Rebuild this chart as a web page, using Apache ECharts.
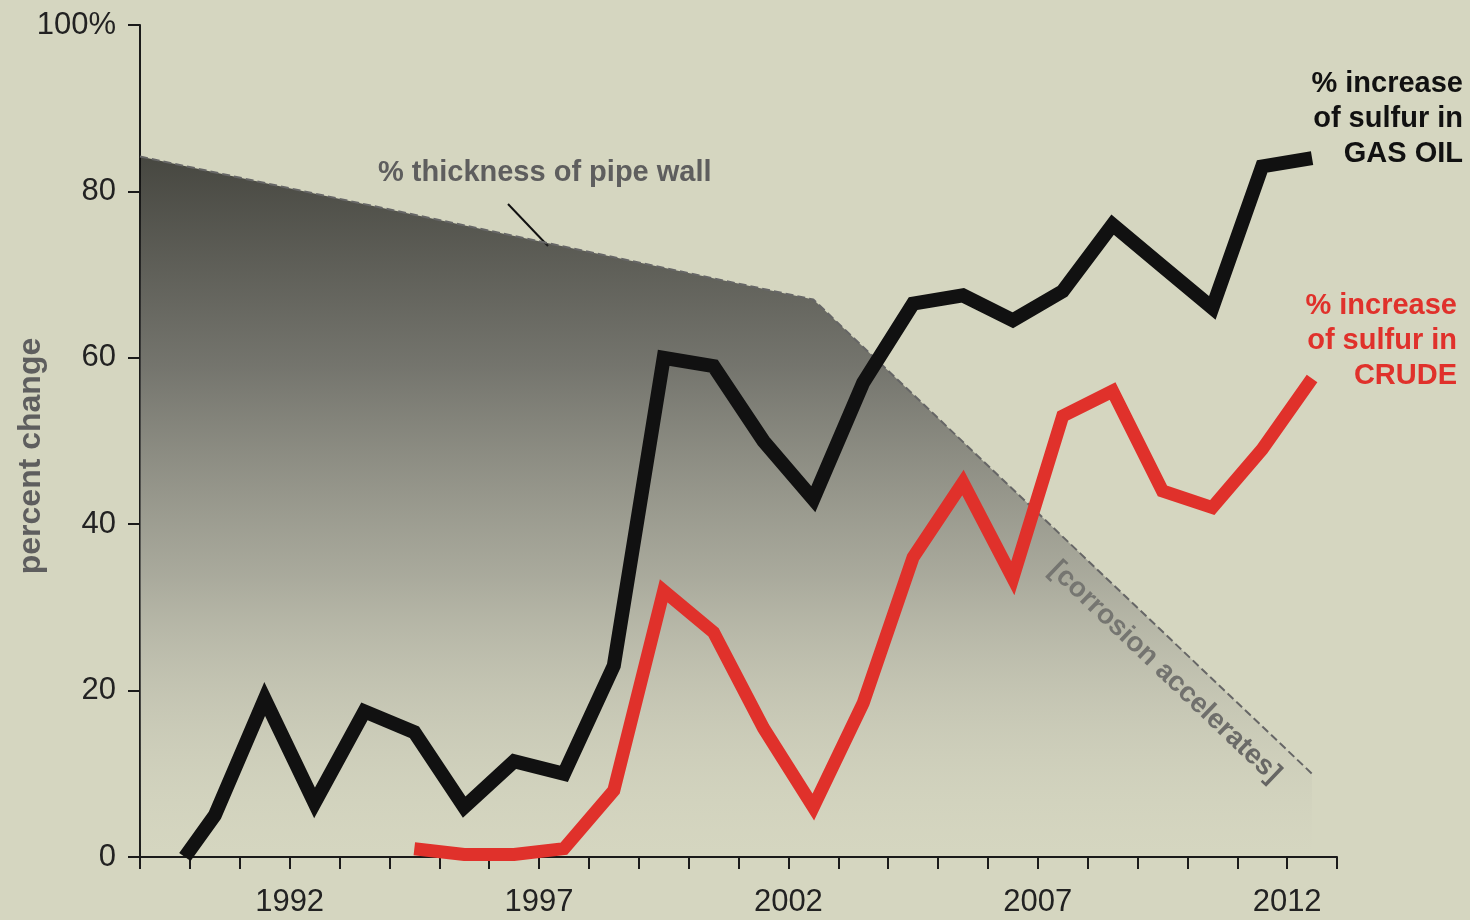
<!DOCTYPE html>
<html lang="en">
<head>
  <meta charset="UTF-8">
  <title>Sulfur and pipe wall</title>
  <script src="https://cdn.jsdelivr.net/npm/echarts@6/dist/echarts.min.js"></script>
  <style>
    html, body { margin: 0; padding: 0; background: #d5d6c0; }
  </style>
</head>
<body>
<div id="main" style="width:1470px;height:920px;"></div>
<script type="text/javascript">
  // values (x = year position, y = percent change)
  var gasOilYears = [1989.9, 1990.5, 1991.5, 1992.5, 1993.5, 1994.5, 1995.5, 1996.5, 1997.5, 1998.5, 1999.5, 2000.5,
                     2001.5, 2002.5, 2003.5, 2004.5, 2005.5, 2006.5, 2007.5, 2008.5, 2009.5, 2010.5, 2011.5, 2012.5];
  var gasOil = [0, 5, 19, 6.5, 17.5, 15, 6, 11.5, 10, 23, 60, 59,
                50, 43, 57, 66.5, 67.5, 64.5, 68, 76, 71, 66, 83, 84];
  var crudeYears = [1994.5, 1995.5, 1996.5, 1997.5, 1998.5, 1999.5, 2000.5, 2001.5, 2002.5, 2003.5,
                    2004.5, 2005.5, 2006.5, 2007.5, 2008.5, 2009.5, 2010.5, 2011.5, 2012.5];
  var crude = [1, 0.3, 0.3, 1, 8, 32, 27, 15.5, 6, 18.5,
               36, 45, 33.5, 53, 56, 44, 42, 49, 57.5];
  var wallYears = [1989, 2002.5, 2012.5];
  var wall = [84.2, 67, 10];
  var yearLabels = [1992, 1997, 2002, 2007, 2012];

  function pairs(xs, ys) {
    return xs.map(function (x, i) { return [x, ys[i]]; });
  }

  var myChart = echarts.init(document.getElementById('main'));
  var font = 'Liberation Sans, Arial, sans-serif';

  var option = {
    backgroundColor: '#d5d6c0',
    animation: false,
    grid: { left: 140, right: 133, top: 25, bottom: 63, containLabel: false, outerBoundsMode: 'none' },
    xAxis: {
      type: 'value',
      min: 1989,
      max: 2013,
      interval: 1,
      splitLine: { show: false },
      axisLine: { lineStyle: { color: '#1a1a1a', width: 2 } },
      axisTick: { length: 12, lineStyle: { color: '#1a1a1a', width: 2 } },
      axisLabel: {
        fontFamily: font, fontSize: 31, color: '#222', margin: 30,
        formatter: function (v) { return yearLabels.indexOf(v) >= 0 ? String(v) : ''; }
      }
    },
    yAxis: {
      type: 'value',
      min: 0,
      max: 100,
      interval: 20,
      splitLine: { show: false },
      axisLine: { show: true, lineStyle: { color: '#1a1a1a', width: 2 } },
      axisTick: { show: true, length: 12, lineStyle: { color: '#1a1a1a', width: 2 } },
      axisLabel: {
        fontFamily: font, fontSize: 31, color: '#222', margin: 24,
        formatter: function (v) { return v === 100 ? '100%' : String(v); }
      }
    },
    series: [
      {
        name: 'pipe wall',
        type: 'line',
        symbol: 'none',
        data: pairs(wallYears, wall),
        lineStyle: { color: '#666', width: 2, type: 'dashed' },
        areaStyle: {
          origin: 'start',
          color: new echarts.graphic.LinearGradient(0, 0, 0, 1, [
            { offset: 0, color: 'rgba(10,10,10,1)' },
            { offset: 0.3, color: 'rgba(75,75,74,1)' },
            { offset: 0.6, color: 'rgba(140,140,132,0.85)' },
            { offset: 1, color: 'rgba(200,200,185,0)' }
          ])
        },
        z: 1
      },
      {
        name: 'crude',
        type: 'line',
        symbol: 'none',
        data: pairs(crudeYears, crude),
        lineStyle: { color: '#e0312b', width: 13, join: 'miter' },
        z: 3
      },
      {
        name: 'gas oil',
        type: 'line',
        symbol: 'none',
        data: pairs(gasOilYears, gasOil),
        lineStyle: { color: '#111', width: 14, join: 'miter' },
        z: 4
      }
    ],
    graphic: [
      {
        type: 'text', x: 31, y: 456, rotation: Math.PI / 2,
        style: { text: 'percent change', font: 'bold 32px ' + font, fill: '#5e5e5e',
                 align: 'center', verticalAlign: 'middle' }
      },
      {
        type: 'text', x: 378, y: 158,
        style: { text: '% thickness of pipe wall', font: 'bold 29px ' + font, fill: '#5e5e5e' }
      },
      {
        type: 'line',
        shape: { x1: 508, y1: 204, x2: 548, y2: 246 },
        style: { stroke: '#111', lineWidth: 2 }
      },
      {
        type: 'text', x: 1165, y: 672, rotation: -0.76,
        style: { text: '[corrosion accelerates]', font: 'bold 28px ' + font, fill: '#555',
                 align: 'center', verticalAlign: 'middle' }
      },
      {
        type: 'text', x: 1463, y: 66,
        style: { text: '% increase\nof sulfur in\nGAS OIL', font: 'bold 29px ' + font, fill: '#111',
                 align: 'right', lineHeight: 35 }
      },
      {
        type: 'text', x: 1457, y: 288,
        style: { text: '% increase\nof sulfur in\nCRUDE', font: 'bold 29px ' + font, fill: '#e0312b',
                 align: 'right', lineHeight: 35 }
      }
    ]
  };

  option && myChart.setOption(option);
</script>
</body>
</html>
